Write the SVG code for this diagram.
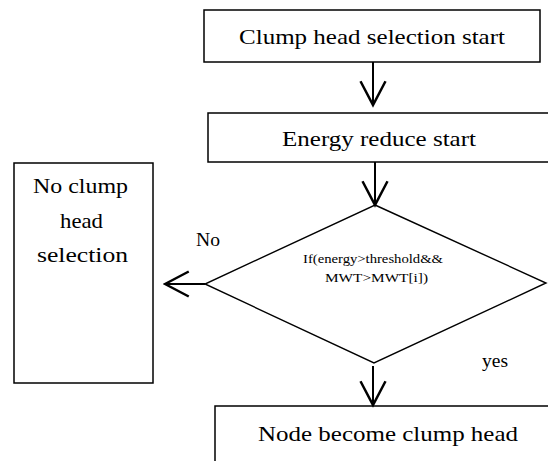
<svg xmlns="http://www.w3.org/2000/svg" width="548" height="461" viewBox="0 0 548 461">
<style>
.box{fill:#fff;stroke:#000;stroke-width:1.5}
.dia{fill:#fff;stroke:#000;stroke-width:1.4}
text{font-family:'Liberation Serif','DejaVu Serif',serif;fill:#000;text-anchor:middle}
.big{font-size:22px}
.lbl{font-size:18px}
.small{font-size:13.5px}
.conn{fill:none;stroke:#000;stroke-width:2}
</style>
<defs>
<marker id="arr" markerUnits="userSpaceOnUse" markerWidth="30" markerHeight="30" viewBox="-22 -12 24 24" refX="0" refY="0" orient="auto">
<path d="M-19,-10 L0,0 L-19,10" fill="none" stroke="#000" stroke-width="2"/>
</marker>
</defs>
<rect width="548" height="461" fill="#fff"/>
<g id="n1">
<rect class="box" x="204" y="10" width="336" height="52"/>
<text class="big" x="372" y="44" textLength="266" lengthAdjust="spacingAndGlyphs">Clump head selection start</text>
</g>
<g id="n2">
<rect class="box" x="208" y="113" width="350" height="49"/>
<text class="big" x="379" y="146" textLength="194" lengthAdjust="spacingAndGlyphs">Energy reduce start</text>
</g>
<g id="n3">
<polygon class="dia" points="375,205 546,283 374,363 205,284"/>
<text class="small" x="373" y="263" textLength="140" lengthAdjust="spacingAndGlyphs">If(energy&gt;threshold&amp;&amp;</text>
<text class="small" x="376.5" y="282" textLength="103" lengthAdjust="spacingAndGlyphs">MWT&gt;MWT[i])</text>
</g>
<g id="n4">
<rect class="box" x="14" y="163" width="139" height="220"/>
<text class="big" x="80.5" y="193" textLength="95" lengthAdjust="spacingAndGlyphs">No clump</text>
<text class="big" x="81.5" y="228" textLength="43" lengthAdjust="spacingAndGlyphs">head</text>
<text class="big" x="82.5" y="262" textLength="91" lengthAdjust="spacingAndGlyphs">selection</text>
</g>
<g id="n5">
<rect class="box" x="215" y="406" width="350" height="70"/>
<text class="big" x="388" y="441" textLength="260" lengthAdjust="spacingAndGlyphs">Node become clump head</text>
</g>
<g id="connectors">
<line class="conn" x1="373" y1="62" x2="373" y2="105" marker-end="url(#arr)"/>
<line class="conn" x1="375" y1="162" x2="375" y2="205" marker-end="url(#arr)"/>
<line class="conn" x1="205" y1="284" x2="165" y2="284" marker-end="url(#arr)"/>
<line class="conn" x1="373" y1="366" x2="373" y2="405" marker-end="url(#arr)"/>
<text class="lbl" x="208" y="246" textLength="24" lengthAdjust="spacingAndGlyphs">No</text>
<text class="lbl" x="495" y="367" textLength="26" lengthAdjust="spacingAndGlyphs">yes</text>
</g>
</svg>
